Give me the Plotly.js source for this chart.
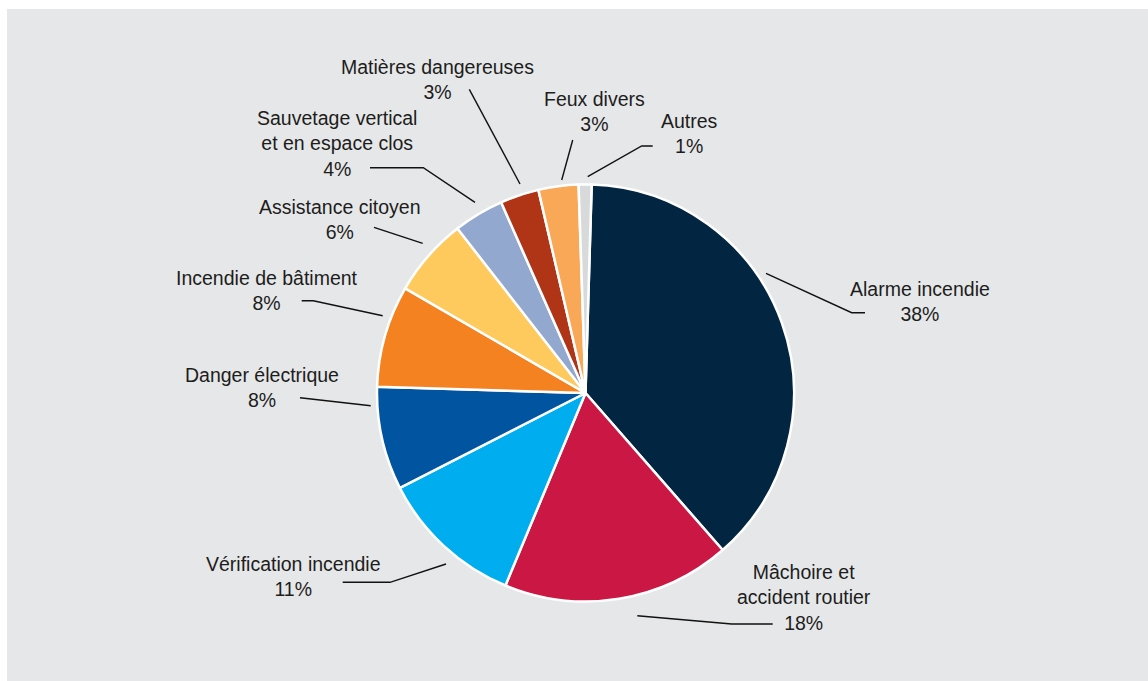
<!DOCTYPE html>
<html><head><meta charset="utf-8">
<script src="https://cdn.plot.ly/plotly-3.0.1.min.js"></script>
<style>html,body{margin:0;padding:0;background:#fff;overflow:hidden}#chart{width:1148px;height:681px}</style>
</head><body><div id="chart"></div>
<script>
// ---- data ----
const categories = ["Alarme incendie", "Mâchoire et<br>accident routier", "Vérification incendie", "Danger électrique", "Incendie de bâtiment", "Assistance citoyen", "Sauvetage vertical<br>et en espace clos", "Matières dangereuses", "Feux divers", "Autres"];
const shares = [38.1, 17.7, 11.2, 8.0, 7.9, 6.1, 3.9, 3.0, 3.1, 1.0];
const sliceColors = ["#022541", "#cb1744", "#00aeef", "#0154a0", "#f58220", "#fec95d", "#93a8cf", "#b03516", "#f9a857", "#d8d9db"];

// ---- layout (pixels) ----
const W = 1148, H = 681;
const CX = 585.5, CY = 393, R = 208.5;
// label block centres
const labelPos = [[920, 301], [804, 597.5], [293.5, 576.7], [262, 387], [267, 290.8], [340, 219.6], [337, 143.4], [437.5, 79.6], [594, 111.7], [690, 134]];
// leader lines: from pie edge to label
const leaderPts = [
  [[766, 273.3], [851.7, 312.7], [865, 312.7]],
  [[637.3, 615.7], [731.7, 624], [772.7, 624]],
  [[446, 564], [390, 582.3], [342.7, 582.3]],
  [[370.7, 405.7], [300, 397.7]],
  [[382.7, 315.7], [313.3, 300.7], [301.7, 300.7]],
  [[422.7, 243.3], [374, 227.3]],
  [[475, 202.3], [423.3, 167.7], [370, 167.7]],
  [[520, 184], [469.3, 89.3]],
  [[561.7, 180], [572.7, 140]],
  [[587.7, 176.7], [641.7, 146], [652.7, 146]]
];

const px = x => x / W, py = y => 1 - y / H;

const shapes = [{
  type: 'rect', xref: 'paper', yref: 'paper', layer: 'below',
  x0: px(7), x1: 1, y0: 0, y1: py(9),
  fillcolor: '#e6e7e9', line: {width: 0}
}];
leaderPts.forEach(pts => {
  const d = pts.map((p, i) => (i ? 'L' : 'M') + px(p[0]).toFixed(5) + ',' + py(p[1]).toFixed(5)).join(' ');
  shapes.push({type: 'path', xref: 'paper', yref: 'paper', path: d, line: {color: '#111', width: 1.4}});
});

const annotations = categories.map((c, i) => ({
  xref: 'paper', yref: 'paper', x: px(labelPos[i][0]), y: py(labelPos[i][1]),
  xanchor: 'center', yanchor: 'middle', align: 'center', showarrow: false,
  text: c + '<br>' + Math.round(shares[i]) + '%',
  font: {family: 'Liberation Sans, Arial, sans-serif', size: 19.5, color: '#1d1d1b'}
}));

const trace = {
  type: 'pie', labels: categories, values: shares, sort: false, direction: 'clockwise',
  rotation: 1.7, textinfo: 'none', hoverinfo: 'label+percent',
  marker: {colors: sliceColors, line: {color: '#ffffff', width: 2.5}},
  domain: {x: [px(CX - R), px(CX + R)], y: [py(CY + R), py(CY - R)]},
  showlegend: false
};

Plotly.newPlot('chart', [trace], {
  width: W, height: H, margin: {l: 0, r: 0, t: 0, b: 0},
  paper_bgcolor: '#ffffff', showlegend: false,
  shapes: shapes, annotations: annotations
}, {displayModeBar: false, staticPlot: true});
</script></body></html>
